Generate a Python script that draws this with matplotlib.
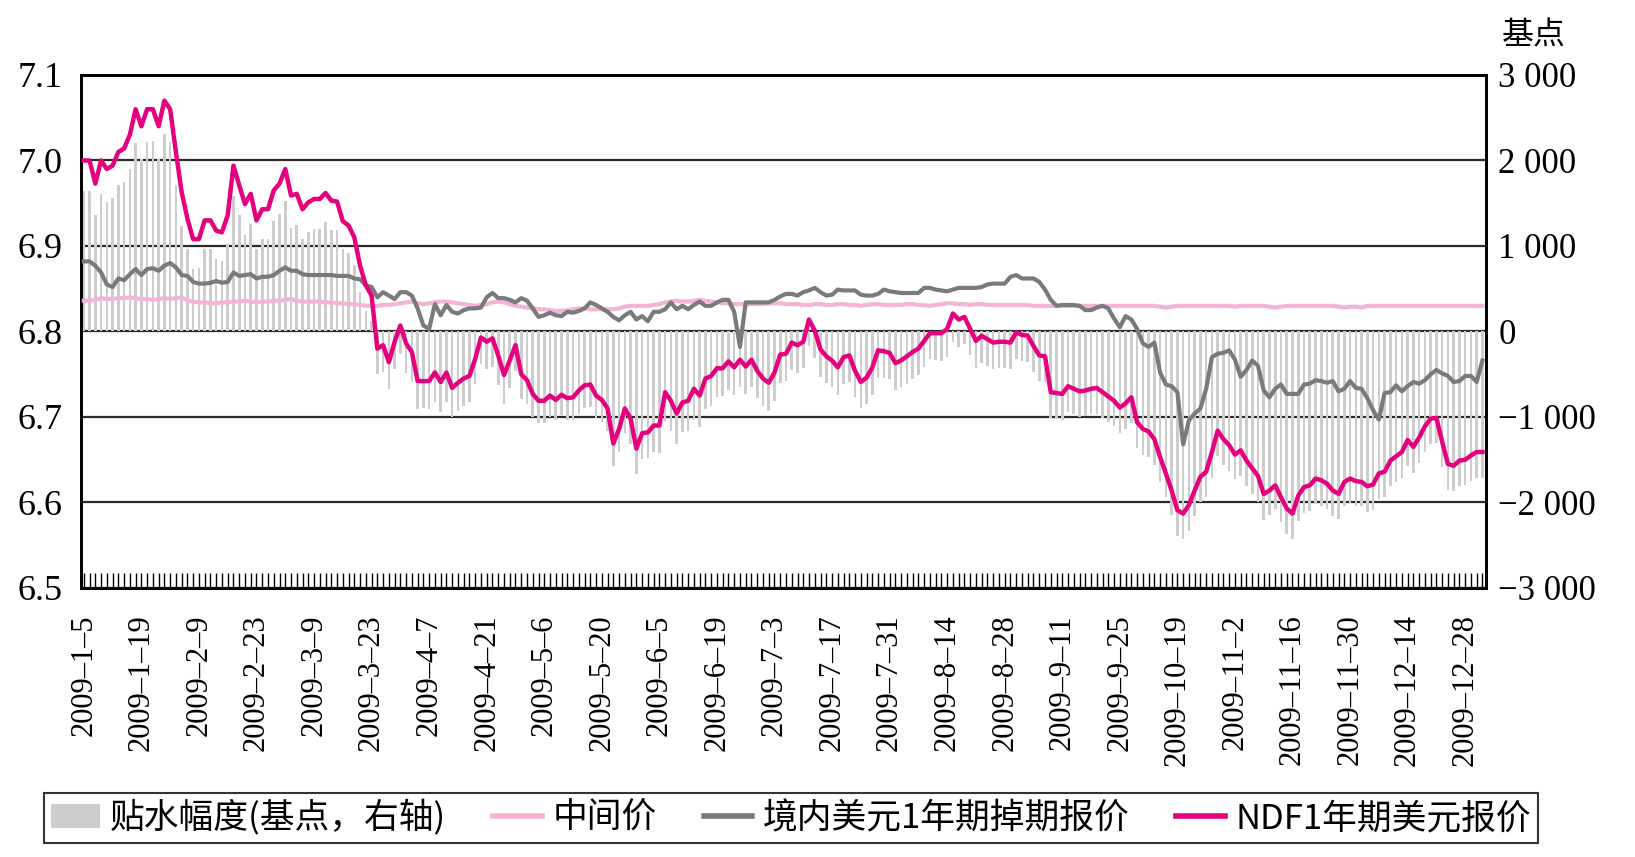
import numpy as np
import matplotlib
matplotlib.use("Agg")
import matplotlib.pyplot as plt
from matplotlib.patches import Patch
from matplotlib.lines import Line2D

plt.rcParams['font.family'] = ['serif']
plt.rcParams['font.serif'] = ['Liberation Serif', 'DejaVu Serif']
plt.rcParams['axes.unicode_minus'] = True
CJK = ['Noto Sans CJK SC', 'DejaVu Sans']

# tick labels every 10 trading days
date_labels = ['2009–1–5', '2009–1–19', '2009–2–9', '2009–2–23', '2009–3–9',
               '2009–3–23', '2009–4–7', '2009–4–21', '2009–5–6', '2009–5–20',
               '2009–6–5', '2009–6–19', '2009–7–3', '2009–7–17', '2009–7–31',
               '2009–8–14', '2009–8–28', '2009–9–11', '2009–9–25', '2009–10–19',
               '2009–11–2', '2009–11–16', '2009–11–30', '2009–12–14', '2009–12–28']

# NDF 1-year USD quote
ndf = [
    7.000, 7.000, 6.973, 7.000, 6.990, 6.994, 7.010, 7.014, 7.030, 7.060,
    7.040, 7.060, 7.060, 7.040, 7.070, 7.060, 7.010, 6.963, 6.932, 6.908,
    6.908, 6.930, 6.930, 6.918, 6.916, 6.936, 6.994, 6.971, 6.949, 6.961,
    6.930, 6.943, 6.943, 6.965, 6.973, 6.990, 6.959, 6.961, 6.943, 6.951,
    6.955, 6.955, 6.962, 6.953, 6.952, 6.929, 6.924, 6.910, 6.877, 6.854,
    6.842, 6.780, 6.784, 6.764, 6.788, 6.807, 6.786, 6.776, 6.742, 6.742,
    6.742, 6.752, 6.741, 6.752, 6.734, 6.740, 6.745, 6.748, 6.768, 6.793,
    6.788, 6.792, 6.772, 6.749, 6.766, 6.784, 6.750, 6.743, 6.727, 6.719,
    6.719, 6.725,
    6.720, 6.726, 6.722, 6.723, 6.731, 6.737, 6.738, 6.725, 6.720, 6.710,
    6.669, 6.686, 6.710, 6.698, 6.663, 6.681, 6.682, 6.690, 6.690, 6.729,
    6.719, 6.704, 6.717, 6.719, 6.733, 6.725, 6.745, 6.748, 6.757, 6.757,
    6.765, 6.758, 6.767, 6.759, 6.767, 6.754, 6.745, 6.740, 6.752, 6.773,
    6.774, 6.787, 6.784, 6.788, 6.814, 6.801, 6.779, 6.771, 6.766, 6.758,
    6.770, 6.772, 6.754, 6.741, 6.746, 6.758, 6.778, 6.777, 6.775, 6.763,
    6.766, 6.771, 6.776, 6.780, 6.789, 6.798, 6.798, 6.798, 6.803, 6.821,
    6.814, 6.817, 6.803, 6.789, 6.795, 6.791, 6.787, 6.788, 6.788, 6.787,
    6.799,
    6.796, 6.795, 6.783, 6.772, 6.771, 6.729, 6.728, 6.727, 6.736, 6.733,
    6.730, 6.731, 6.733, 6.734, 6.729, 6.724, 6.719, 6.711, 6.716, 6.723,
    6.694, 6.686, 6.683, 6.674, 6.653, 6.634, 6.614, 6.591, 6.587, 6.597,
    6.614, 6.630, 6.636, 6.659, 6.684, 6.674, 6.667, 6.656, 6.661, 6.649,
    6.640, 6.631, 6.610, 6.614, 6.620, 6.606, 6.593, 6.587, 6.608, 6.618,
    6.620, 6.628, 6.626, 6.622, 6.614, 6.610, 6.624, 6.628, 6.625, 6.624,
    6.619, 6.621, 6.634, 6.636, 6.649, 6.654, 6.659, 6.673, 6.665, 6.676,
    6.689, 6.698, 6.699, 6.671, 6.645, 6.643, 6.649, 6.650, 6.655, 6.659,
    6.659,
]

# onshore 1-year USD swap quote
onshore = [
    6.882, 6.882, 6.877, 6.869, 6.855, 6.852, 6.862, 6.860, 6.867, 6.873,
    6.866, 6.873, 6.874, 6.871, 6.877, 6.880, 6.875, 6.866, 6.865, 6.858,
    6.856, 6.856, 6.857, 6.859, 6.857, 6.858, 6.869, 6.865, 6.866, 6.867,
    6.862, 6.864, 6.864, 6.866, 6.871, 6.875, 6.871, 6.871, 6.867, 6.866,
    6.866, 6.866, 6.866, 6.866, 6.865, 6.865, 6.865, 6.862, 6.861, 6.854,
    6.852, 6.840, 6.846, 6.842, 6.838, 6.846, 6.846, 6.842, 6.827, 6.807,
    6.803, 6.832, 6.819, 6.831, 6.823, 6.821, 6.825, 6.827, 6.827, 6.828,
    6.840, 6.845, 6.839, 6.839, 6.837, 6.834, 6.839, 6.836, 6.827, 6.817,
    6.819, 6.822,
    6.819, 6.818, 6.823, 6.822, 6.824, 6.827, 6.834, 6.831, 6.827, 6.823,
    6.817, 6.813, 6.819, 6.823, 6.814, 6.818, 6.812, 6.823, 6.823, 6.826,
    6.834, 6.826, 6.830, 6.826, 6.831, 6.835, 6.830, 6.830, 6.834, 6.837,
    6.837, 6.823, 6.782, 6.834, 6.834, 6.834, 6.834, 6.834, 6.837, 6.841,
    6.844, 6.844, 6.842, 6.846, 6.848, 6.851, 6.846, 6.842, 6.843, 6.849,
    6.848, 6.848, 6.848, 6.843, 6.842, 6.842, 6.844, 6.849, 6.847, 6.846,
    6.845, 6.845, 6.845, 6.845, 6.851, 6.851, 6.849, 6.848, 6.847, 6.849,
    6.851, 6.851, 6.851, 6.851, 6.852, 6.855, 6.856, 6.856, 6.856, 6.864,
    6.866,
    6.862, 6.862, 6.862, 6.858, 6.849, 6.837, 6.830, 6.831, 6.831, 6.831,
    6.830, 6.825, 6.825, 6.828, 6.830, 6.827, 6.815, 6.805, 6.818, 6.814,
    6.803, 6.786, 6.782, 6.787, 6.752, 6.738, 6.736, 6.729, 6.668, 6.696,
    6.704, 6.710, 6.733, 6.770, 6.774, 6.775, 6.778, 6.767, 6.747, 6.755,
    6.766, 6.760, 6.731, 6.723, 6.733, 6.738, 6.727, 6.727, 6.727, 6.738,
    6.739, 6.743, 6.742, 6.740, 6.742, 6.730, 6.733, 6.742, 6.734, 6.733,
    6.722, 6.708, 6.697, 6.728, 6.729, 6.737, 6.730, 6.736, 6.741, 6.739,
    6.743, 6.750, 6.755, 6.751, 6.748, 6.741, 6.742, 6.748, 6.748, 6.741,
    6.766,
]

# central parity
mid = [
    6.836, 6.836, 6.837, 6.839, 6.838, 6.838, 6.839, 6.839, 6.840, 6.839,
    6.838, 6.838, 6.837, 6.838, 6.839, 6.838, 6.839, 6.840, 6.836, 6.835,
    6.834, 6.834, 6.833, 6.833, 6.834, 6.834, 6.835, 6.835, 6.836, 6.835,
    6.834, 6.835, 6.835, 6.836, 6.836, 6.837, 6.838, 6.836, 6.835, 6.835,
    6.835, 6.835, 6.834, 6.834, 6.833, 6.833, 6.832, 6.832, 6.831, 6.830,
    6.830, 6.830, 6.831, 6.831, 6.832, 6.833, 6.834, 6.835, 6.833, 6.832,
    6.833, 6.834, 6.835, 6.835, 6.834, 6.833, 6.832, 6.831, 6.830, 6.831,
    6.832, 6.834, 6.835, 6.834, 6.832, 6.830, 6.829, 6.828, 6.827, 6.826,
    6.826, 6.825, 6.824, 6.824, 6.825, 6.826, 6.827, 6.827, 6.826, 6.826,
    6.826, 6.826, 6.826, 6.827, 6.829, 6.830, 6.830, 6.830, 6.830, 6.831,
    6.832, 6.834, 6.835, 6.836, 6.835, 6.835, 6.836, 6.837, 6.836, 6.835,
    6.834, 6.833, 6.833, 6.832, 6.832, 6.832, 6.832, 6.832, 6.832, 6.833,
    6.833, 6.833, 6.832, 6.832, 6.832, 6.831, 6.831, 6.832, 6.832, 6.831,
    6.831, 6.832, 6.832, 6.831, 6.831, 6.830, 6.831, 6.832, 6.832, 6.831,
    6.831, 6.831, 6.831, 6.832, 6.832, 6.831, 6.831, 6.830, 6.831, 6.832,
    6.833, 6.833, 6.832, 6.832, 6.831, 6.832, 6.832, 6.831, 6.831, 6.831,
    6.831, 6.831, 6.831, 6.831, 6.831, 6.830, 6.830, 6.830, 6.830, 6.830,
    6.830, 6.830, 6.830, 6.830, 6.830, 6.830, 6.830, 6.830, 6.830, 6.830,
    6.830, 6.830, 6.830, 6.830, 6.830, 6.830, 6.830, 6.829, 6.828, 6.829,
    6.830, 6.830, 6.830, 6.830, 6.830, 6.830, 6.830, 6.830, 6.830, 6.830,
    6.829, 6.830, 6.830, 6.830, 6.830, 6.830, 6.829, 6.828, 6.829, 6.830,
    6.830, 6.830, 6.830, 6.830, 6.830, 6.830, 6.830, 6.830, 6.829, 6.828,
    6.829, 6.829, 6.828, 6.830, 6.830, 6.830, 6.830, 6.830, 6.830, 6.830,
    6.830, 6.830, 6.830, 6.830, 6.830, 6.830, 6.830, 6.830, 6.830, 6.830,
    6.830, 6.830, 6.830, 6.830,
]

# discount (basis points, right axis)
discount = [
    1640, 1640, 1360, 1610, 1520, 1560, 1710, 1750, 1900, 2210,
    2020, 2220, 2230, 2020, 2310, 2220, 1710, 1230, 960, 730,
    740, 960, 970, 850, 820, 1020, 1590, 1360, 1130, 1260,
    960, 1080, 1080, 1290, 1370, 1530, 1210, 1250, 1080, 1160,
    1200, 1200, 1280, 1190, 1190, 960, 920, 780, 460, 240,
    120, -500, -470, -670, -440, -260, -480, -590, -910, -900,
    -910, -820, -940, -830, -1000, -930, -870, -830, -620, -380,
    -440, -420, -630, -850, -660, -460, -790, -850, -1000, -1070,
    -1070, -1000, -1040, -980, -1030, -1030, -960, -900, -880, -1010,
    -1060, -1160, -1570, -1410, -1190, -1320, -1670, -1490, -1480, -1410,
    -1420, -1050, -1160, -1320, -1180, -1160, -1030, -1120, -910, -870,
    -770, -760, -680, -740, -650, -730, -650, -780, -870, -930,
    -810, -600, -580, -450, -480, -430, -170, -310, -530, -600,
    -650, -740, -620, -590, -770, -890, -850, -740, -540, -540,
    -560, -680, -650, -610, -560, -510, -420, -320, -330, -340,
    -300, -120, -180, -150, -280, -430, -370, -400, -440, -430,
    -430, -440, -320, -350, -360, -470, -580, -590, -1010, -1020,
    -1030, -940, -970, -1000, -990, -970, -960, -1010, -1060, -1110,
    -1190, -1140, -1070, -1360, -1440, -1470, -1560, -1760, -1940, -2150,
    -2390, -2430, -2330, -2160, -2000, -1940, -1710, -1460, -1560, -1630,
    -1730, -1690, -1810, -1900, -1990, -2200, -2150, -2080, -2230, -2370,
    -2430, -2220, -2120, -2100, -2020, -2040, -2080, -2160, -2190, -2040,
    -2010, -2040, -2040, -2110, -2090, -1960, -1940, -1810, -1760, -1710,
    -1570, -1650, -1540, -1410, -1320, -1310, -1590, -1850, -1870, -1810,
    -1800, -1750, -1710, -1710,
]

x = np.arange(len(ndf))

c_bar = '#cdcdcd'
c_mid = '#f4b4d8'
c_on = '#7a7a7a'
c_ndf = '#e4007f'

fig = plt.figure(figsize=(16.35, 8.57), dpi=100)
ax = fig.add_axes([0.0495, 0.3139, 0.8593, 0.5986])
ax2 = ax.twinx()

# bars on the basis-point axis
ax.bar(x, discount, width=0.45, color=c_bar, zorder=2, linewidth=0)
ax.set_ylim(-3000, 3000)
ax.set_yticks(range(-3000, 3001, 1000))
ax.set_yticklabels(['−3 000', '−2 000', '−1 000', '0', '1 000', '2 000', '3 000'])
ax.yaxis.tick_right()
ax.set_axisbelow(True)
ax.yaxis.grid(True, color='#2a2a2a', lw=1.6)
ax.tick_params(axis='y', length=0, pad=9, labelsize=25)

ax.set_xlim(-0.5, 243.6)
ax.set_xticks(range(0, len(ndf), 10))
ax.set_xticklabels(date_labels, rotation=90, va='top', ha='center')
ax.set_xticks(x, minor=True)
ax.tick_params(axis='x', which='both', direction='in', length=11, width=1,
               color='black', labelsize=22, pad=19)

# lines on the exchange-rate axis
ax2.plot(x, mid, color=c_mid, lw=3, zorder=3)
ax2.plot(x, onshore, color=c_on, lw=3, zorder=4)
ax2.plot(x, ndf, color=c_ndf, lw=3.2, zorder=5)
ax2.set_ylim(6.5, 7.1)
ax2.set_yticks([6.5, 6.6, 6.7, 6.8, 6.9, 7.0, 7.1])
ax2.set_yticklabels(['6.5', '6.6', '6.7', '6.8', '6.9', '7.0', '7.1'])
ax2.yaxis.tick_left()
ax2.tick_params(axis='y', length=0, pad=13, labelsize=26)

for a in (ax, ax2):
    for s in a.spines.values():
        s.set_color('black')
        s.set_linewidth(2)

fig.text(1534 / 1635, 1 - 36 / 857, '基点', ha='center', va='center',
         family=CJK, size=23)

handles = [
    Patch(facecolor=c_bar, edgecolor='none'),
    Line2D([], [], color=c_mid, lw=4),
    Line2D([], [], color=c_on, lw=4),
    Line2D([], [], color=c_ndf, lw=4),
]
labels = ['贴水幅度(基点，右轴)', '中间价', '境内美元1年期掉期报价', 'NDF1年期美元报价']
leg = fig.legend(handles, labels, loc='lower left',
                 bbox_to_anchor=(44 / 1635, 1 - 843 / 857, 1494 / 1635, 59 / 857),
                 mode='expand', ncol=4, frameon=True, fancybox=False,
                 edgecolor='black', borderaxespad=0, borderpad=0.2,
                 handlelength=1.4, handletextpad=0.3,
                 prop={'family': CJK, 'size': 25})
leg.get_frame().set_linewidth(1.5)

fig.savefig('out.png', dpi=100)
